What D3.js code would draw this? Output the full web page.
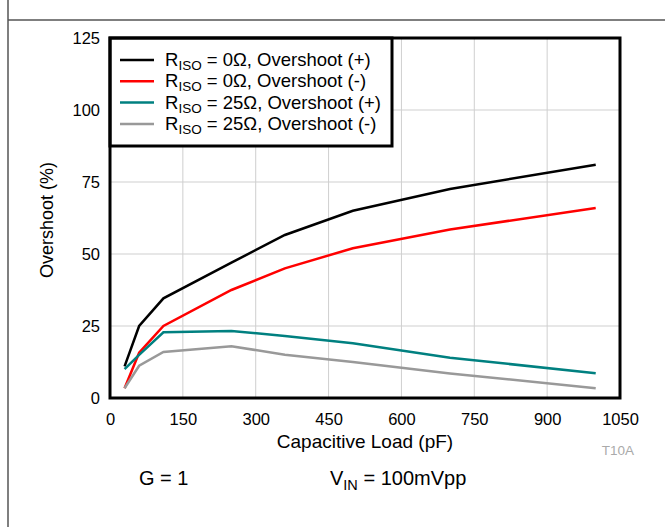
<!DOCTYPE html>
<html><head><meta charset="utf-8">
<script src="https://cdn.jsdelivr.net/npm/d3@7"></script>
<style>
body{margin:0;background:#fff;}
svg{display:block;font-family:"Liberation Sans",Arial,Helvetica,sans-serif;}
</style></head>
<body>
<svg id="c" width="665" height="527"></svg>
<script>
const capLoad = [30, 60, 110, 250, 360, 500, 700, 1000];
const r0Pos  = [11, 25, 34.6, 47, 56.6, 65, 72.6, 81];
const r0Neg  = [3.4, 15.7, 25, 37.5, 45, 52, 58.5, 66];
const r25Pos = [10, 15, 22.8, 23.3, 21.5, 19, 14, 8.6];
const r25Neg = [3.4, 11.2, 16, 18, 15, 12.5, 8.5, 3.4];
const xTicks = [0, 150, 300, 450, 600, 750, 900, 1050];
const yTicks = [0, 25, 50, 75, 100, 125];
const seriesNames = ["0Ω, Overshoot (+)", "0Ω, Overshoot (-)", "25Ω, Overshoot (+)", "25Ω, Overshoot (-)"];
const seriesColors = ["#000000", "#ff0000", "#008080", "#999999"];
const seriesValues = [r0Pos, r0Neg, r25Pos, r25Neg];

const svg = d3.select("#c");
const L = 110, R = 620, T = 38, B = 398;
const x = d3.scaleLinear().domain([0, 1050]).range([L, R]);
const y = d3.scaleLinear().domain([0, 125]).range([B, T]);

// page frame
svg.append("line").attr("x1", 8).attr("x2", 8).attr("y1", 0).attr("y2", 527).attr("stroke", "#555").attr("stroke-width", 1.5);
svg.append("line").attr("x1", 8).attr("x2", 665).attr("y1", 20).attr("y2", 20).attr("stroke", "#555").attr("stroke-width", 1.5);

// grid
svg.append("g").selectAll("line").data(xTicks.slice(1, -1)).join("line")
  .attr("x1", d => x(d)).attr("x2", d => x(d)).attr("y1", T).attr("y2", B)
  .attr("stroke", "#cfcfcf").attr("stroke-width", 1);
svg.append("g").selectAll("line").data(yTicks.slice(1, -1)).join("line")
  .attr("y1", d => y(d)).attr("y2", d => y(d)).attr("x1", L).attr("x2", R)
  .attr("stroke", "#cfcfcf").attr("stroke-width", 1);

// axes
const xa = svg.append("g").attr("transform", `translate(0,${B})`)
  .call(d3.axisBottom(x).tickValues(xTicks).tickSize(0).tickPadding(15).tickFormat(d3.format("d")));
xa.select(".domain").remove();
xa.selectAll("text").attr("font-size", 16.5).attr("fill", "#000").attr("font-family", "Liberation Sans, Arial, sans-serif");
const ya = svg.append("g").attr("transform", `translate(${L},0)`)
  .call(d3.axisLeft(y).tickValues(yTicks).tickSize(0).tickPadding(10).tickFormat(d3.format("d")));
ya.select(".domain").remove();
ya.selectAll("text").attr("font-size", 16.5).attr("fill", "#000").attr("font-family", "Liberation Sans, Arial, sans-serif");

// lines
const line = d3.line().x((d, i) => x(capLoad[i])).y(d => y(d));
svg.append("g").selectAll("path").data(seriesValues).join("path")
  .attr("d", d => line(d)).attr("fill", "none")
  .attr("stroke", (d, i) => seriesColors[i]).attr("stroke-width", 2.5)
  .attr("stroke-linejoin", "miter");

// legend
const lg = svg.append("g");
lg.append("rect").attr("x", L).attr("y", T).attr("width", 282).attr("height", 108)
  .attr("fill", "#fff").attr("stroke", "#000").attr("stroke-width", 3);
seriesNames.forEach((n, i) => {
  const yy = 60 + i * 21.3;
  lg.append("line").attr("x1", 120).attr("x2", 154).attr("y1", yy).attr("y2", yy)
    .attr("stroke", seriesColors[i]).attr("stroke-width", 2.5);
  const t = lg.append("text").attr("x", 165).attr("y", yy + 6).attr("font-size", 18.5).attr("fill", "#000");
  t.append("tspan").text("R");
  t.append("tspan").attr("font-size", 13.5).attr("dy", 4).text("ISO");
  t.append("tspan").attr("dy", -4).text(" = " + n);
});

// plot frame
svg.append("rect").attr("x", L).attr("y", T).attr("width", R - L).attr("height", B - T)
  .attr("fill", "none").attr("stroke", "#000").attr("stroke-width", 3);

// axis titles
svg.append("text").attr("x", 365).attr("y", 448).attr("text-anchor", "middle")
  .attr("font-size", 19).text("Capacitive Load (pF)");
svg.append("text").attr("transform", "translate(53,220) rotate(-90)").attr("text-anchor", "middle")
  .attr("font-size", 18).text("Overshoot (%)");
svg.append("text").attr("x", 618).attr("y", 455).attr("text-anchor", "middle")
  .attr("font-size", 13.5).attr("fill", "#aaa").text("T10A");

// conditions
svg.append("text").attr("x", 139).attr("y", 485).attr("font-size", 20).text("G = 1");
const vt = svg.append("text").attr("x", 330).attr("y", 485).attr("font-size", 20);
vt.append("tspan").text("V");
vt.append("tspan").attr("font-size", 14.5).attr("dy", 5).text("IN");
vt.append("tspan").attr("dy", -5).text(" = 100mVpp");

// cut caption (cut off at the bottom edge in the reference)
svg.append("text").attr("x", 60).attr("y", 540).attr("font-size", 19).attr("font-weight", "bold")
  .attr("fill", "#555").text("Figure 10. Small Signal Overshoot vs. Capacitive Load");
</script>
</body></html>
